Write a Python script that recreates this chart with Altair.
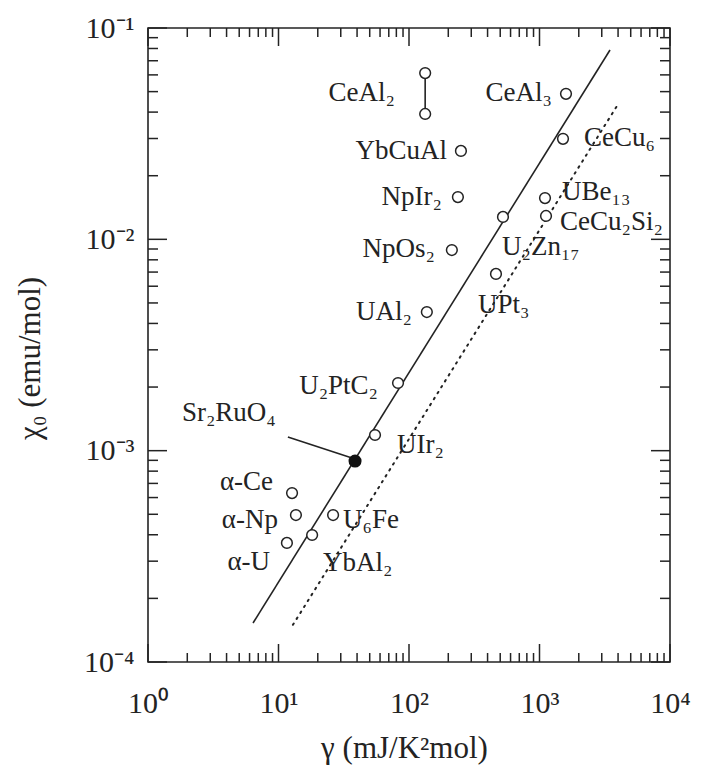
import altair as alt
import pandas as pd

# ---------------- data ----------------
pt_name = ["CeAl2 (a)", "CeAl2 (b)", "CeAl3", "CeCu6", "YbCuAl", "NpIr2", "UBe13",
           "CeCu2Si2", "U2Zn17", "NpOs2", "UPt3", "UAl2", "U2PtC2", "UIr2",
           "α-Ce", "α-Np", "U6Fe", "α-U", "YbAl2"]
pt_gamma = [133, 133, 1596, 1514, 250, 237, 1102, 1122, 525, 213, 464, 137,
            82.4, 54.9, 12.7, 13.6, 26.2, 11.6, 18.1]
pt_chi = [0.0612, 0.0392, 0.0488, 0.0299, 0.0262, 0.01585, 0.01567, 0.0129,
          0.01277, 0.0089, 0.00686, 0.00453, 0.00209, 0.001186, 0.000630,
          0.000496, 0.000496, 0.000366, 0.000399]
sr_gamma = [38.6]
sr_chi = [0.000893]

lab_text = ["CeAl₂", "CeAl₃", "CeCu₆", "YbCuAl", "NpIr₂", "UBe₁₃", "CeCu₂Si₂",
            "NpOs₂", "U₂Zn₁₇", "UPt₃", "UAl₂", "U₂PtC₂", "Sr₂RuO₄", "UIr₂",
            "α-Ce", "α-Np", "U₆Fe", "α-U", "YbAl₂"]
lab_gamma = [78.1, 1247, 2193, 195.5, 179, 1487, 1436, 158, 516, 338, 105.4,
             57.9, 1.82, 80.9, 9.08, 9.91, 31.2, 8.61, 21.9]
lab_chi = [0.0492, 0.0492, 0.0302, 0.0262, 0.01585, 0.01675, 0.01208, 0.0090,
           0.0092, 0.00489, 0.00453, 0.00202, 0.00151, 0.001064, 0.000710,
           0.000470, 0.000470, 0.000297, 0.000294]
lab_align = ["right", "right", "left", "right", "right", "left", "left", "right",
             "left", "left", "right", "right", "left", "left", "right", "right",
             "left", "right", "left"]

solid_gamma = [6.38, 3470]
solid_chi = [1.53e-4, 0.0787]
dotted_gamma = [12.9, 3925]
dotted_chi = [1.50e-4, 0.0428]
arrow_gamma = [11.8, 36.6]
arrow_chi = [0.00116, 0.000923]

x_decades = [1.0, 10.0, 100.0, 1000.0, 10000.0]
y_decades = [1e-4, 1e-3, 1e-2, 1e-1]
minor_mult = [2, 3, 4, 5, 6, 7, 8, 9]
x_minor = [d * m for d in x_decades[:-1] for m in minor_mult]
y_minor = [d * m for d in y_decades[:-1] for m in minor_mult]

# ---------------- build ----------------
W, H = 522, 634
FONT = "Liberation Serif"
INK = "#232323"
XMIN, XMAX = 1.0, 10000.0
YMIN, YMAX = 1e-4, 1e-1

xs = alt.Scale(type="log", domain=[XMIN, XMAX])
ys = alt.Scale(type="log", domain=[YMIN, YMAX])

X = alt.X("g:Q", scale=xs, axis=alt.Axis(
    values=x_decades, title="γ  (mJ/K²mol)",
    labelExpr="'10' + ['⁰','¹','²','³','⁴'][round(log(datum.value)/LN10)]",
    labelPadding=26, labelFlush=False, titleX=256, titleY=86,
    titleAlign="center", titleBaseline="middle",
    titleFont=FONT, titleFontSize=31, titleFontWeight="normal", titleColor=INK))
Y = alt.Y("c:Q", scale=ys, axis=alt.Axis(
    values=y_decades, title="χ₀  (emu/mol)",
    labelExpr="'10' + ['⁻⁴','⁻³','⁻²','⁻¹'][round(log(datum.value)/LN10) + 4]",
    labelPadding=14, titleX=-118, titleY=330, titleAngle=270,
    titleAlign="center", titleBaseline="middle",
    titleFont=FONT, titleFontSize=31, titleFontWeight="normal", titleColor=INK))

pts = pd.DataFrame({"name": pt_name, "g": pt_gamma, "c": pt_chi})
sr = pd.DataFrame({"g": sr_gamma, "c": sr_chi})
labs = pd.DataFrame({"t": lab_text, "g": lab_gamma, "c": lab_chi, "a": lab_align})
solid = pd.DataFrame({"g": solid_gamma, "c": solid_chi})
dotted = pd.DataFrame({"g": dotted_gamma, "c": dotted_chi})
arrow = pd.DataFrame({"g": arrow_gamma, "c": arrow_chi})
ceal2 = pd.DataFrame({"g": [pt_gamma[0]] * 2, "c": pt_chi[:2]})

# tick positions (anchors on the frame)
trows = []
for vals, L in [(x_decades, 18), (x_minor, 9)]:
    for v in vals:
        trows.append({"g": v, "c": YMIN, "len": L, "side": "b"})
        trows.append({"g": v, "c": YMAX, "len": L, "side": "t"})
for vals, L in [(y_decades, 19), (y_minor, 10)]:
    for v in vals:
        trows.append({"g": XMIN, "c": v, "len": L, "side": "l"})
        trows.append({"g": XMAX, "c": v, "len": L, "side": "r"})
ticks = pd.DataFrame(trows)

layers = [
    alt.Chart(solid).mark_line(color=INK, strokeWidth=1.6).encode(x=X, y=Y),
    alt.Chart(dotted).mark_line(color=INK, strokeWidth=2, strokeDash=[1.5, 5.5],
                                strokeCap="round").encode(x=X, y=Y),
    alt.Chart(arrow).mark_line(color=INK, strokeWidth=1.6).encode(x=X, y=Y),
    alt.Chart(ceal2).mark_line(color=INK, strokeWidth=1.6).encode(x=X, y=Y),
    alt.Chart(pts).mark_circle(fill="white", stroke=INK, strokeWidth=1.5, opacity=1,
                               size=115).encode(x=X, y=Y),
    alt.Chart(sr).mark_circle(color="#111111", opacity=1, size=170).encode(x=X, y=Y),
]
for side in ["left", "right"]:
    layers.append(alt.Chart(labs).transform_filter(alt.datum.a == side).mark_text(
        align=side, baseline="middle", font=FONT, fontSize=27, color=INK).encode(
        x=X, y=Y, text="t:N"))

# inward ticks: a 'tick' mark offset inward by half of its length
for s, orient in [("b", "vertical"), ("t", "vertical"), ("l", "horizontal"), ("r", "horizontal")]:
    for L in [9, 10, 18, 19]:
        sub = ticks[(ticks["side"] == s) & (ticks["len"] == L)]
        if len(sub) == 0:
            continue
        off = {"b": {"yOffset": -L / 2}, "t": {"yOffset": L / 2},
               "l": {"xOffset": L / 2}, "r": {"xOffset": -L / 2}}[s]
        layers.append(alt.Chart(sub).mark_tick(
            color=INK, orient=orient, size=L, thickness=1.5, opacity=1, **off
        ).encode(x=X, y=Y))

chart = alt.layer(*layers).properties(
    width=W, height=H,
    autosize=alt.AutoSizeParams(type="none"),
    padding={"left": 148, "top": 28, "right": 32, "bottom": 105},
    background="white",
).configure_view(
    stroke=INK, strokeWidth=1.6
).configure_axis(
    domain=False, ticks=False, grid=False,
    labelFont=FONT, labelFontSize=30, labelColor=INK,
)

chart.save("out.html", embed_options={"renderer": "svg", "actions": False})
